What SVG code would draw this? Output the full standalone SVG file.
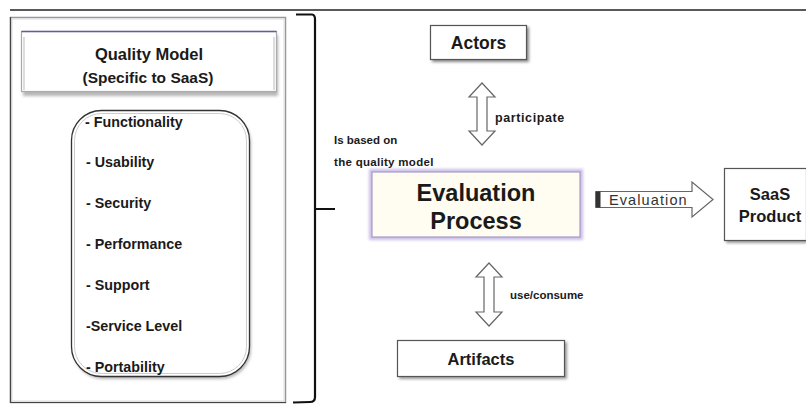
<svg xmlns="http://www.w3.org/2000/svg" width="806" height="404" viewBox="0 0 806 404">
<style>
text{font-family:"Liberation Sans",Arial,sans-serif;font-weight:bold;fill:#1a1a1a}
.box{fill:#fff;stroke:#555;stroke-width:1.2}
.shadow{fill:#b5b5b5}
.item{font-size:14.3px}
.lbl{font-size:11.5px}
.dbl{fill:#fff;stroke:#666;stroke-width:1.2}
</style>
<defs>
<filter id="blur" x="-10%" y="-10%" width="120%" height="130%"><feGaussianBlur stdDeviation="1.5"/></filter>
</defs>
<rect width="806" height="404" fill="#fff"/>
<line x1="10" y1="10" x2="806" y2="10" stroke="#222" stroke-width="1.5"/>

<g id="quality-model-panel">
<rect x="10.5" y="17.5" width="275" height="385" fill="#fff" stroke="#999" stroke-width="1.5"/>
<rect x="12" y="19" width="272" height="382" fill="none" stroke="#ddd" stroke-width="1"/>
<line x1="10.5" y1="17" x2="10.5" y2="403" stroke="#444" stroke-width="1.2"/>
<line x1="10" y1="402.5" x2="286" y2="402.5" stroke="#444" stroke-width="1.2"/>
</g>

<g id="quality-model-header">
<rect x="23" y="35" width="255" height="61" class="shadow" filter="url(#blur)"/>
<rect x="21.5" y="31.5" width="255" height="60" fill="#fff" stroke="#aaa" stroke-width="1.2"/>
<line x1="21.5" y1="31.5" x2="276.5" y2="31.5" stroke="#6a5a9a" stroke-width="1.5"/>
<line x1="24" y1="37" x2="24" y2="90" stroke="#ddd" stroke-width="2"/>
<line x1="274" y1="37" x2="274" y2="90" stroke="#ddd" stroke-width="2"/>
<text x="149" y="60" font-size="16.5" text-anchor="middle">Quality Model</text>
<text x="148" y="83" font-size="15.5" text-anchor="middle">(Specific to SaaS)</text>
</g>

<g id="quality-attributes">
<rect x="73" y="113" width="178" height="266" rx="30" class="shadow" filter="url(#blur)"/>
<rect x="71.5" y="110.5" width="178" height="266" rx="30" fill="#fff" stroke="#333" stroke-width="1.3"/>
<rect x="74.5" y="113.5" width="172" height="260" rx="27" fill="none" stroke="#ccc" stroke-width="1"/>
<text class="item" x="85" y="127">- Functionality</text>
<text class="item" x="86" y="167">- Usability</text>
<text class="item" x="86" y="208">- Security</text>
<text class="item" x="86" y="249">- Performance</text>
<text class="item" x="86" y="290">- Support</text>
<text class="item" x="86" y="331">-Service Level</text>
<text class="item" x="86" y="372">- Portability</text>
</g>

<g id="brace">
<path d="M296 14.5 L312 14.5 Q315 15 315 19 L315 209 M315 209 L335 209 M315 209 L315 397 Q315 402 310 402 L293 402.5" fill="none" stroke="#111" stroke-width="2.2"/>
</g>

<g id="actors">
<rect x="432" y="27" width="97" height="35" fill="#888" filter="url(#blur)"/>
<rect x="430.5" y="25.5" width="96" height="34" class="box"/>
<text x="478.5" y="49" font-size="17.5" text-anchor="middle">Actors</text>
</g>

<g id="evaluation-process">
<rect x="369" y="169" width="214" height="71" fill="#c9bfe6" filter="url(#blur)"/>
<rect x="372" y="172" width="208" height="65" fill="#fffdf2" stroke="#a89cc8" stroke-width="1.2"/>
<text x="476" y="201" font-size="23.5" text-anchor="middle">Evaluation</text>
<text x="476" y="229" font-size="23.5" text-anchor="middle">Process</text>
</g>

<g id="artifacts">
<rect x="399" y="342" width="168" height="37" fill="#999" filter="url(#blur)"/>
<rect x="397.5" y="340.5" width="167" height="36" class="box"/>
<text x="481" y="365" font-size="16.5" text-anchor="middle">Artifacts</text>
</g>

<g id="saas-product">
<rect x="726" y="170" width="82" height="73" fill="#999" filter="url(#blur)"/>
<rect x="724.5" y="168.5" width="82" height="72" class="box"/>
<text x="770" y="200" font-size="16.5" text-anchor="middle">SaaS</text>
<text x="770" y="222" font-size="16.5" text-anchor="middle">Product</text>
</g>

<g id="connectors">
<path class="dbl" d="M482 83 L495 97 L487 97 L487 131 L495 131 L482 145 L469 131 L477 131 L477 97 L469 97 Z"/>
<path class="dbl" d="M489 263 L502 277 L494 277 L494 312 L502 312 L489 326 L476 312 L484 312 L484 277 L476 277 Z"/>
<path class="dbl" d="M596 191.5 L692 191.5 L692 182 L713 199.5 L692 217 L692 207.5 L596 207.5 Z"/>
<rect x="595.5" y="191.5" width="5" height="16" fill="#333"/>
</g>

<g id="labels">
<text x="495" y="121.5" font-size="12.5" letter-spacing="0.6">participate</text>
<text class="lbl" x="334" y="144">Is based on</text>
<text class="lbl" x="334" y="166" letter-spacing="0.3">the quality model</text>
<text class="lbl" x="510" y="299">use/consume</text>
<text x="609" y="205" font-size="14.5" letter-spacing="1.1" style="font-weight:normal;fill:#333">Evaluation</text>
</g>
</svg>
